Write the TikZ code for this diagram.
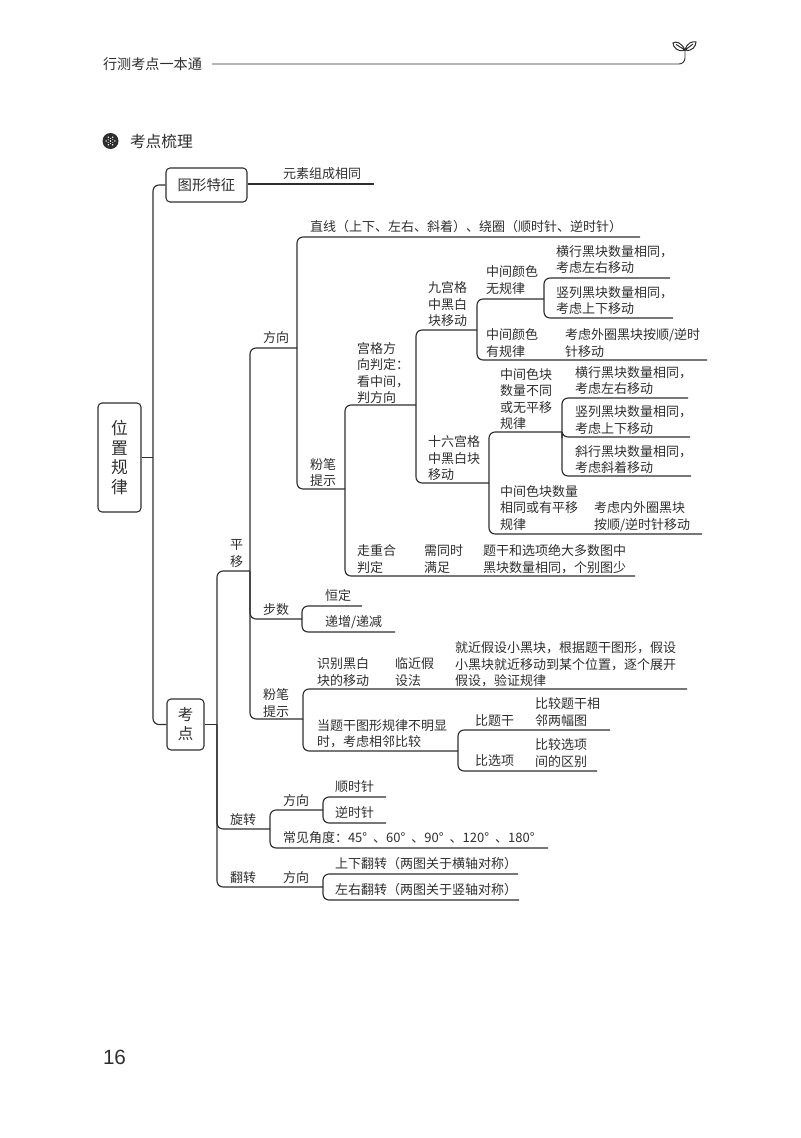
\documentclass[tikz,border=0pt]{standalone}
\usepackage{fontspec}
\setmainfont{Liberation Sans}
\newfontfamily\cjk{Noto Sans CJK SC}
\definecolor{ink}{HTML}{2E2E2E}
\tikzset{
  txt/.style={anchor=west,inner sep=0pt,outer sep=0pt,align=left,text=ink,font=\cjk\fontsize{9.75}{12.4}\selectfont},
  hd/.style={txt,font=\cjk\fontsize{10.6}{12.4}\selectfont},
  boxn/.style={draw=ink,line width=.8pt,rounded corners=3pt,inner sep=0pt,align=center,text=ink},
  conn/.style={draw=ink,line width=.85pt,rounded corners=4.5pt},
  leaf/.style={draw=ink,line width=.75pt},
}
\begin{document}
\begin{tikzpicture}[x=.75pt,y=-.75pt]
\useasboundingbox (0,0) rectangle (800,1138);
% header
\node[hd] (head) at (103,64) {行测考点一本通};
\coordinate (hl) at (212,64);
\coordinate (hr) at (685,50);
\draw[conn,line width=.7pt] (hl) -| (hr);
\draw[leaf] (685,50) .. controls (681,42) and (676,41) .. (673,43) .. controls (673,47) and (678,53) .. (685,50) -- (676,44.5);
\draw[leaf] (685,50) .. controls (687,43) and (692,41) .. (696,42) .. controls (696,46) and (692,52) .. (685,50) -- (693,44);
% title
\fill[ink] (110.5,141) circle (8);
\foreach \a in {0,60,...,300}{\fill[white] (110.5,141) ++(\a:4.4) circle (.8);}
\foreach \a in {30,90,...,330}{\fill[white] (110.5,141) ++(\a:2.6) circle (.5);}
\fill[white] (110.5,141) circle (.8);
\node[txt,font=\cjk\fontsize{11.8}{14}\selectfont] (title) at (130,141) {考点梳理};
% page number
\node[txt,font=\fontsize{15.5}{18}\selectfont] (page) at (103,1057) {16};

% boxes
\node[boxn,minimum width=32.25pt,minimum height=81.75pt,font=\cjk\fontsize{12.6}{14.9}\selectfont] (wz) at (119.5,457.5) {位\\置\\规\\律};
\node[boxn,minimum width=60.75pt,minimum height=25.5pt,font=\cjk\fontsize{10.8}{13}\selectfont] (tx) at (206.5,185) {图形特征};
\node[boxn,minimum width=27.75pt,minimum height=38.25pt,font=\cjk\fontsize{11.6}{14.2}\selectfont] (kd) at (185.5,724.5) {考\\点};

% joins
\coordinate (tr) at (153,457.5);
\coordinate (kdj) at (217,724.5);
\coordinate (pyj) at (250,571);
\coordinate (xzj) at (270,829);
\coordinate (fzj) at (323,887);
\coordinate (fxj) at (297,348);
\coordinate (bsj) at (302,619);
\coordinate (fbj) at (303,719);
\coordinate (gfj) at (345,489);
\coordinate (ggj) at (416,405);
\coordinate (jgj) at (477,330);
\coordinate (slj) at (489,483);
\coordinate (a1j) at (544,299);
\coordinate (b1j) at (562,432);
\coordinate (fx2j) at (323,810);
\coordinate (bbj) at (458,751);
% free ends
\coordinate (e0) at (374,184);
\coordinate (e1) at (640,237);
\coordinate (e2) at (635,576);
\coordinate (e3) at (707,360);
\coordinate (e4) at (670,278);
\coordinate (e5) at (673,318);
\coordinate (e6) at (702,534);
\coordinate (e7) at (688,398);
\coordinate (e8) at (690,437);
\coordinate (e9) at (691,476);
\coordinate (e10) at (362,606);
\coordinate (e11) at (395,632);
\coordinate (e12) at (687,689);
\coordinate (e13) at (610,730);
\coordinate (e14) at (597,771);
\coordinate (e15) at (548,848);
\coordinate (e16) at (386,797);
\coordinate (e17) at (386,823);
\coordinate (e18) at (518,874);
\coordinate (e19) at (519,900);

% connectors
\draw[conn] (wz.east) -- (tr);
\draw[conn] (tx.west) -| (tr) |- (kd.west);
\draw[conn] (tx.east |- e0) -- (e0);
\draw[conn] (kd.east) -- (kdj);
\draw[conn] (pyj) -| (kdj) |- (fzj);
\draw[conn] (kdj) |- (xzj);
\draw[conn] (fxj) -| (pyj) |- (fbj);
\draw[conn] (pyj) |- (bsj);
\draw[conn] (e1) -| (fxj) |- (gfj);
\draw[conn] (ggj) -| (gfj) |- (e2);
\draw[conn] (jgj) -| (ggj) |- (slj);
\draw[conn] (a1j) -| (jgj) |- (e3);
\draw[conn] (e4) -| (a1j) |- (e5);
\draw[conn] (b1j) -| (slj) |- (e6);
\draw[conn] (e7) -| (b1j) |- (e8);
\draw[conn] (b1j) |- (e9);
\draw[conn] (e10) -| (bsj) |- (e11);
\draw[conn] (e12) -| (fbj) |- (bbj);
\draw[conn] (e13) -| (bbj) |- (e14);
\draw[conn] (fx2j) -| (xzj) |- (e15);
\draw[conn] (e16) -| (fx2j) |- (e17);
\draw[conn] (e18) -| (fzj) |- (e19);

% texts
\node[txt] (t1) at (283,174) {元素组成相同};
\node[txt] (t2) at (310,227) {直线（上下、左右、斜着）、绕圈（顺时针、逆时针）};
\node[txt] (t3) at (263,338) {方向};
\node[txt] (t4) at (310,472.5) {粉笔\\提示};
\node[txt] (t5) at (230,553.5) {平\\移};
\node[txt] (t6) at (357,373) {宫格方\\向判定：\\看中间，\\判方向};
\node[txt] (t7) at (428,304.5) {九宫格\\中黑白\\块移动};
\node[txt] (t8) at (428,458.5) {十六宫格\\中黑白块\\移动};
\node[txt] (t9) at (486,280) {中间颜色\\无规律};
\node[txt] (t10) at (486,343) {中间颜色\\有规律};
\node[txt] (t11) at (556,259.5) {横行黑块数量相同，\\考虑左右移动};
\node[txt] (t12) at (556,300.5) {竖列黑块数量相同，\\考虑上下移动};
\node[txt] (t13) at (565,343) {考虑外圈黑块按顺/逆时\\针移动};
\node[txt] (t14) at (500,399) {中间色块\\数量不同\\或无平移\\规律};
\node[txt] (t15) at (575,380.5) {横行黑块数量相同，\\考虑左右移动};
\node[txt] (t16) at (575,420) {竖列黑块数量相同，\\考虑上下移动};
\node[txt] (t17) at (575,459.5) {斜行黑块数量相同，\\考虑斜着移动};
\node[txt] (t18) at (500,508) {中间色块数量\\相同或有平移\\规律};
\node[txt] (t19) at (594,516.5) {考虑内外圈黑块\\按顺/逆时针移动};
\node[txt] (t20) at (357,559) {走重合\\判定};
\node[txt] (t21) at (424,559) {需同时\\满足};
\node[txt] (t22) at (483,559) {题干和选项绝大多数图中\\黑块数量相同，个别图少};
\node[txt] (t23) at (263,610) {步数};
\node[txt] (t24) at (325,596) {恒定};
\node[txt] (t25) at (325,622) {递增/递减};
\node[txt] (t26) at (317,672) {识别黑白\\块的移动};
\node[txt] (t27) at (395,672) {临近假\\设法};
\node[txt] (t28) at (455,664.5) {就近假设小黑块，根据题干图形，假设\\小黑块就近移动到某个位置，逐个展开\\假设，验证规律};
\node[txt] (t29) at (263,703) {粉笔\\提示};
\node[txt] (t30) at (317,733.5) {当题干图形规律不明显\\时，考虑相邻比较};
\node[txt] (t31) at (475,721) {比题干};
\node[txt] (t32) at (535,712) {比较题干相\\邻两幅图};
\node[txt] (t33) at (475,761) {比选项};
\node[txt] (t34) at (535,753) {比较选项\\间的区别};
\node[txt] (t35) at (230,820) {旋转};
\node[txt] (t36) at (283,801) {方向};
\node[txt] (t37) at (335,787) {顺时针};
\node[txt] (t38) at (335,813) {逆时针};
\node[txt] (t39) at (283,838) {常见角度：45°\hspace{4.5pt}、60°\hspace{4.5pt}、90°\hspace{4.5pt}、120°\hspace{4.5pt}、180°};
\node[txt] (t40) at (230,878) {翻转};
\node[txt] (t41) at (283,878) {方向};
\node[txt] (t42) at (335,864) {上下翻转（两图关于横轴对称）};
\node[txt] (t43) at (335,890) {左右翻转（两图关于竖轴对称）};
\end{tikzpicture}
\end{document}
